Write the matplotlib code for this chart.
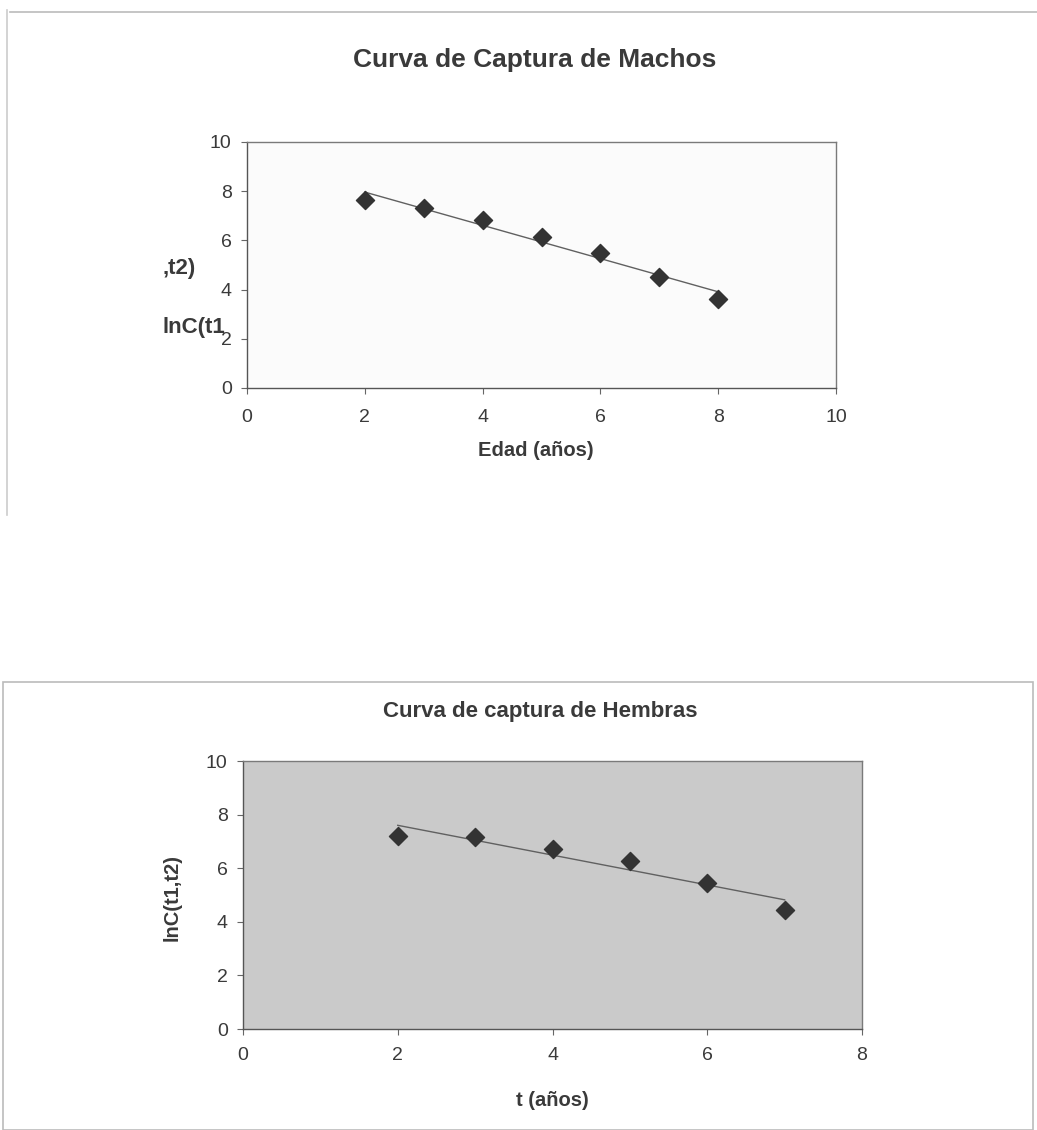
import numpy as np
import matplotlib
matplotlib.use("Agg")
import matplotlib.pyplot as plt
from matplotlib.lines import Line2D
from matplotlib.patches import Rectangle

plt.rcParams['font.family'] = ['Liberation Sans', 'DejaVu Sans']

# catch curve, males
edad_machos = [2, 3, 4, 5, 6, 7, 8]
lnc_machos = [7.64, 7.30, 6.82, 6.15, 5.50, 4.53, 3.62]

# catch curve, females
t_hembras = [2, 3, 4, 5, 6, 7]
lnc_hembras = [7.22, 7.15, 6.72, 6.28, 5.46, 4.43]

W, H = 1037, 1130
TXT = "#3a3a3a"
fig = plt.figure(figsize=(W / 100, H / 100), dpi=100)
fig.patch.set_facecolor("white")


def px_axes(left, top, right, bottom):
    # axes placed in pixel coordinates (origin top-left)
    return fig.add_axes([left / W, 1 - bottom / H, (right - left) / W, (bottom - top) / H])


def style_axes(ax, xmax, bg, xpad):
    ax.set_facecolor(bg)
    for s in ax.spines.values():
        s.set_color("#7a7a7a")
        s.set_linewidth(1.0)
    ax.spines["left"].set_color("#555555")
    ax.spines["bottom"].set_color("#555555")
    ax.set_xlim(0, xmax)
    ax.set_ylim(0, 10)
    ax.set_xticks(np.arange(0, xmax + 1, 2))
    ax.set_yticks(np.arange(0, 11, 2))
    ax.tick_params(axis="both", labelsize=14, colors="#666666", labelcolor=TXT,
                   length=4, width=0.8, direction="out")
    ax.tick_params(axis="y", pad=7)
    ax.tick_params(axis="x", pad=xpad)


def add_fit(ax, x, y, xfit):
    # least-squares trend line over the data range
    m, b = np.polyfit(x, y, 1)
    ax.plot(xfit, np.polyval([m, b], xfit), color="#606060", lw=1.0, zorder=2)
    ax.scatter(x, y, marker="D", s=85, color="#333333", zorder=3)


# chart frames
fig.add_artist(Line2D([10 / W, 1], [1 - 12 / H, 1 - 12 / H], color="#bbbbbb", lw=1.2))
fig.add_artist(Line2D([7 / W, 7 / W], [1 - 10 / H, 1 - 515 / H], color="#cccccc", lw=1.2))
fig.add_artist(Rectangle((3 / W, 0), 1030 / W, 1 - 682 / H, transform=fig.transFigure,
                         fill=False, edgecolor="#bbbbbb", lw=1.2))

# --- males ---
ax1 = px_axes(247, 142, 836, 388)
style_axes(ax1, 10, "#fbfbfb", 11)
add_fit(ax1, edad_machos, lnc_machos, np.array([2, 8]))
ax1.set_xlabel("Edad (años)", fontsize=14.5, fontweight="bold", color=TXT)
ax1.xaxis.set_label_coords(0.49, -0.253)
ax1.xaxis.label.set_va("center")
fig.text(535 / W, 1 - 60 / H, "Curva de Captura de Machos", ha="center", va="center",
         fontsize=19, fontweight="bold", color=TXT)
# y label split over two lines, as it is laid out in the chart
fig.text(163 / W, 1 - 269 / H, ",t2)", ha="left", va="center",
         fontsize=16, fontweight="bold", color=TXT)
fig.text(163 / W, 1 - 327 / H, "lnC(t1", ha="left", va="center",
         fontsize=16, fontweight="bold", color=TXT)

# --- females ---
ax2 = px_axes(243, 761, 862, 1029)
style_axes(ax2, 8, "#cacaca", 9)
add_fit(ax2, t_hembras, lnc_hembras, np.array([2, 7]))
ax2.set_xlabel("t (años)", fontsize=14.5, fontweight="bold", color=TXT)
ax2.xaxis.set_label_coords(0.50, -0.265)
ax2.xaxis.label.set_va("center")
ax2.set_ylabel("lnC(t1,t2)", fontsize=14.5, fontweight="bold", color=TXT)
ax2.yaxis.set_label_coords(-0.115, 0.49)
ax2.yaxis.label.set_va("center")
fig.text(540 / W, 1 - 711 / H, "Curva de captura de Hembras", ha="center", va="center",
         fontsize=16, fontweight="bold", color=TXT)

fig.savefig("out.png", dpi=100)
